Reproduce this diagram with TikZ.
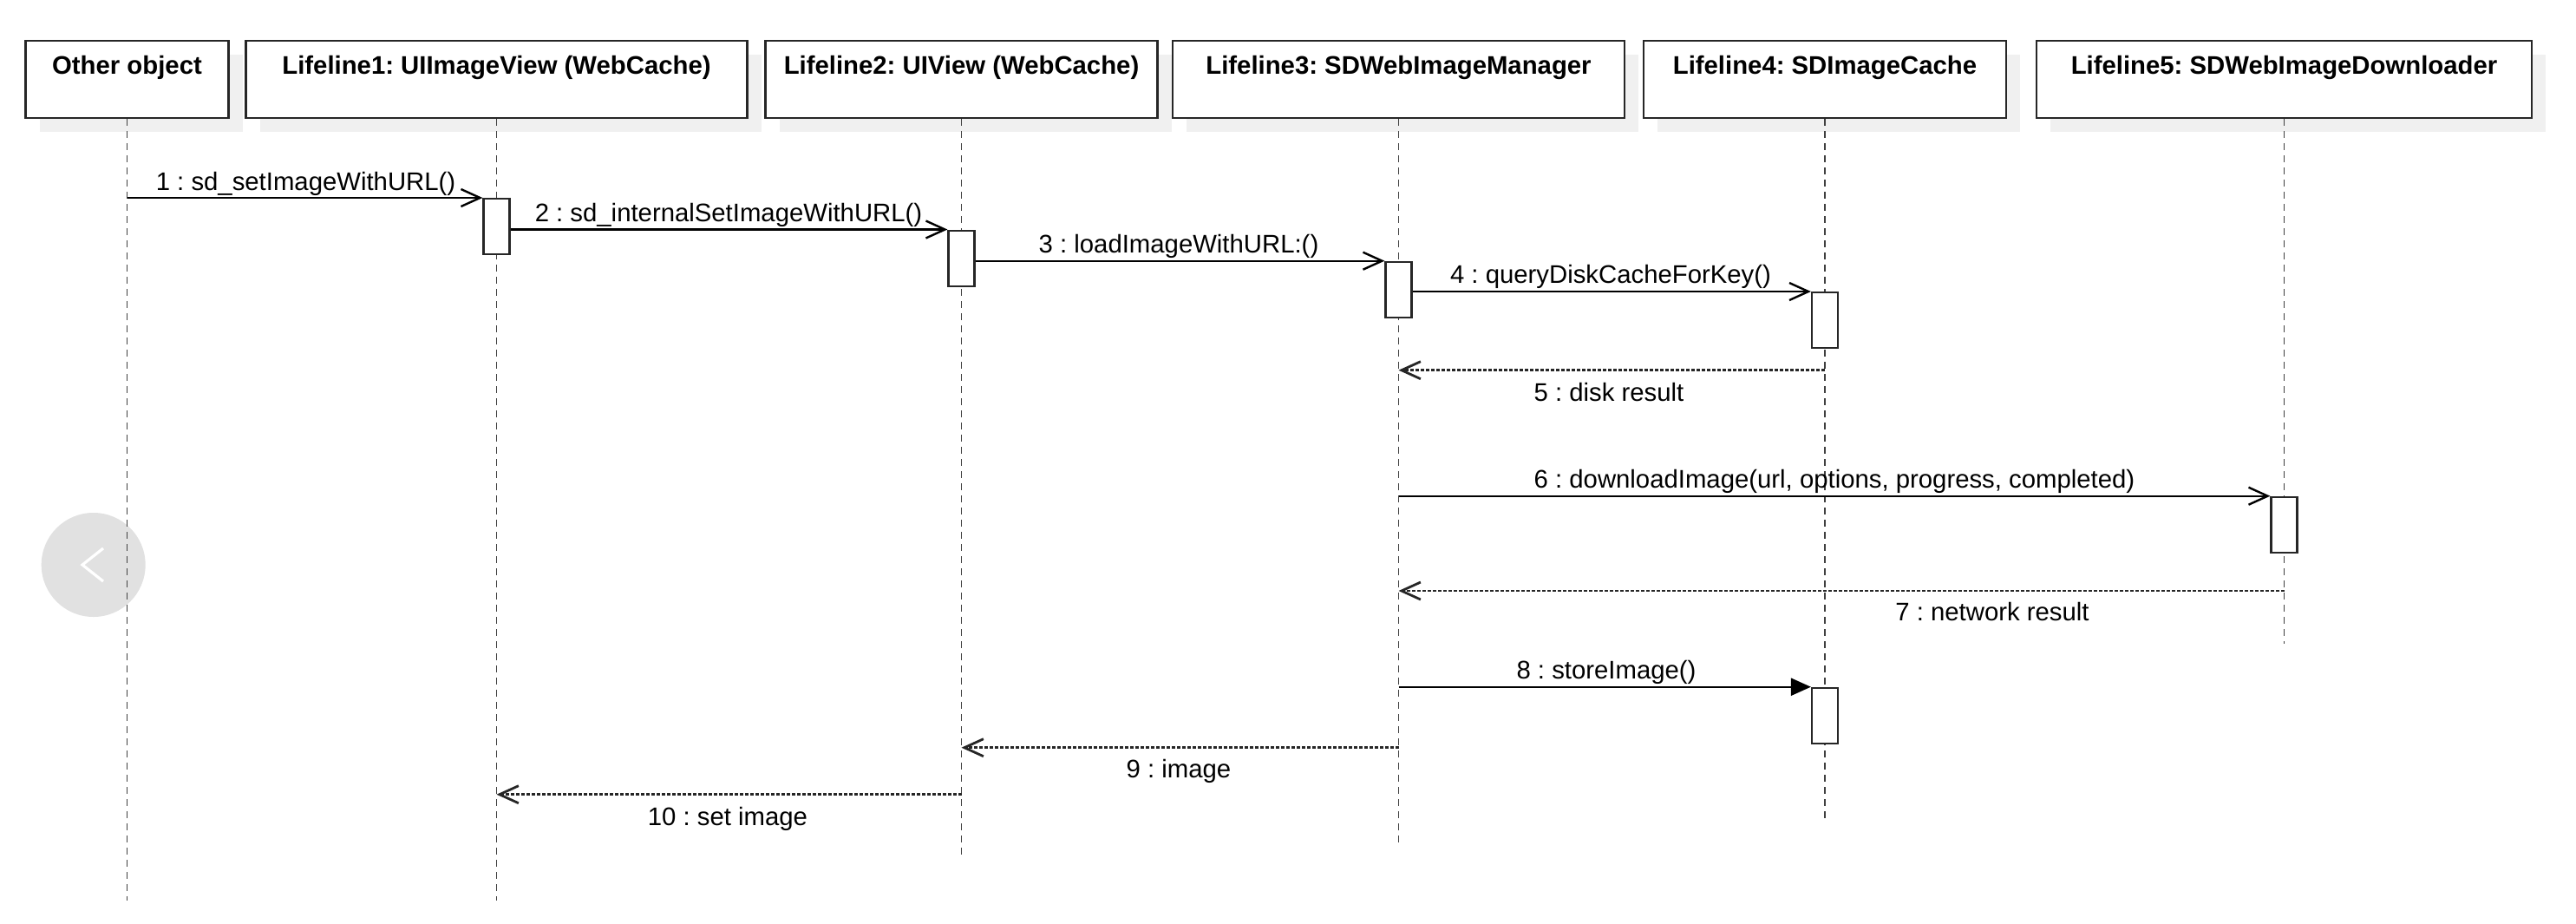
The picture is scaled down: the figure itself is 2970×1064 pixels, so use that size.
\documentclass[tikz,border=0pt]{standalone}
\usepackage{fontspec}
\setmainfont{Liberation Sans}
\usetikzlibrary{arrows.meta,shadows}
\definecolor{shadowgray}{HTML}{F0F0F0}
\definecolor{btngray}{HTML}{E1E1E1}
\frenchspacing
\begin{document}
\begin{tikzpicture}[x=0.25pt,y=-0.25pt,
  hbox/.style={draw=black!85, line width=0.6pt, fill=white, inner sep=0pt,
    text height=9.5pt, text depth=12.75pt, minimum height=22.25pt,
    font=\fontsize{7.33pt}{8.8pt}\selectfont\bfseries, anchor=base,
    general shadow={fill=shadowgray, draw=none, shadow xshift=4pt, shadow yshift=-4pt}},
  act/.style={draw=black!85, line width=0.55pt, fill=white, inner sep=0pt,
    minimum width=7.5pt, minimum height=16pt, anchor=north},
  life/.style={black!75, line width=0.45pt, dash pattern=on 2pt off 1.5pt},
  msg/.style={line width=0.6pt, -{Straight Barb[length=5.5pt,width=5pt]}},
  sync/.style={line width=0.6pt, -{Triangle[length=5.75pt,width=5pt]}},
  ret/.style={line width=0.7pt, black!85, dash pattern=on 0.9pt off 0.6pt, -{Straight Barb[length=5.5pt,width=5pt]}},
  lbl/.style={font=\fontsize{7.33pt}{8.8pt}\selectfont, inner sep=0pt, anchor=base}]
\useasboundingbox (0,0) rectangle (2970,1064);

% back button overlay
\fill[btngray] (107.7,651) circle (15pt);
\draw[white, line width=0.8pt] (119,632) -- (95,651) -- (119,670);

% headers
\node[hbox, minimum width=58.5pt]   (h0) at (146.5,85)  {Other object};
\node[hbox, minimum width=144.5pt]  (h1) at (572.5,85)  {Lifeline1: UIImageView (WebCache)};
\node[hbox, minimum width=113pt]    (h2) at (1108.5,85) {Lifeline2: UIView (WebCache)};
\node[hbox, minimum width=130.25pt] (h3) at (1612.5,85) {Lifeline3: SDWebImageManager};
\node[hbox, minimum width=104.5pt]  (h4) at (2104,85)   {Lifeline4: SDImageCache};
\node[hbox, minimum width=142.75pt] (h5) at (2633.5,85) {Lifeline5: SDWebImageDownloader};

% lifeline ends
\coordinate (e0) at (146.5,1038);
\coordinate (e1) at (572.5,1038);
\coordinate (e2) at (1108.5,985);
\coordinate (e3) at (1612.5,971);
\coordinate (e4) at (2104,946);
\coordinate (e5) at (2633.5,742);
\foreach \i in {0,...,5} { \draw[life] (h\i.south) -- (e\i); }

% activations
\node[act] (a1) at (572.5,228) {};
\node[act] (a2) at (1108.5,264.5) {};
\node[act] (a3) at (1612.5,300.7) {};
\node[act] (a4) at (2104,336) {};
\node[act] (a5) at (2633.5,571.7) {};
\node[act] (a6) at (2104,791.7) {};

% message endpoints
\coordinate (s1) at (146.5,228);
\coordinate (r5s) at (2104,426.7);
\coordinate (r5e) at (1612.5,426.7);
\coordinate (s6) at (1612.5,571.7);
\coordinate (r7s) at (2633.5,681);
\coordinate (r7e) at (1612.5,681);
\coordinate (s8) at (1612.5,791.7);
\coordinate (r9s) at (1612.5,861.7);
\coordinate (r9e) at (1108.5,861.7);
\coordinate (r10s) at (1108.5,915.7);
\coordinate (r10e) at (572.5,915.7);

% messages
\draw[msg] (s1) -- (a1.north west);
\draw[msg] (a1.east |- a2.north) -- (a2.north west);
\draw[msg] (a2.east |- a3.north) -- (a3.north west);
\draw[msg] (a3.east |- a4.north) -- (a4.north west);
\draw[ret] (r5s) -- (r5e);
\draw[msg] (s6) -- (a5.north west);
\draw[ret] (r7s) -- (r7e);
\draw[sync] (s8) -- (a6.north west);
\draw[ret] (r9s) -- (r9e);
\draw[ret] (r10s) -- (r10e);

% labels
\node[lbl] (l1) at (352.5,219) {1 : sd\_setImageWithURL()};
\node[lbl] (l2) at (840,255) {2 : sd\_internalSetImageWithURL()};
\node[lbl] (l3) at (1359,291.5) {3 : loadImageWithURL:()};
\node[lbl] (l4) at (1857,326.5) {4 : queryDiskCacheForKey()};
\node[lbl] (l5) at (1855,462) {5 : disk result};
\node[lbl] (l6) at (2115,562) {6 : downloadImage(url, options, progress, completed)};
\node[lbl] (l7) at (2297,715) {7 : network result};
\node[lbl] (l8) at (1852,782) {8 : storeImage()};
\node[lbl] (l9) at (1359,896.5) {9 : image};
\node[lbl] (l10) at (839,951) {10 : set image};
\end{tikzpicture}
\end{document}
